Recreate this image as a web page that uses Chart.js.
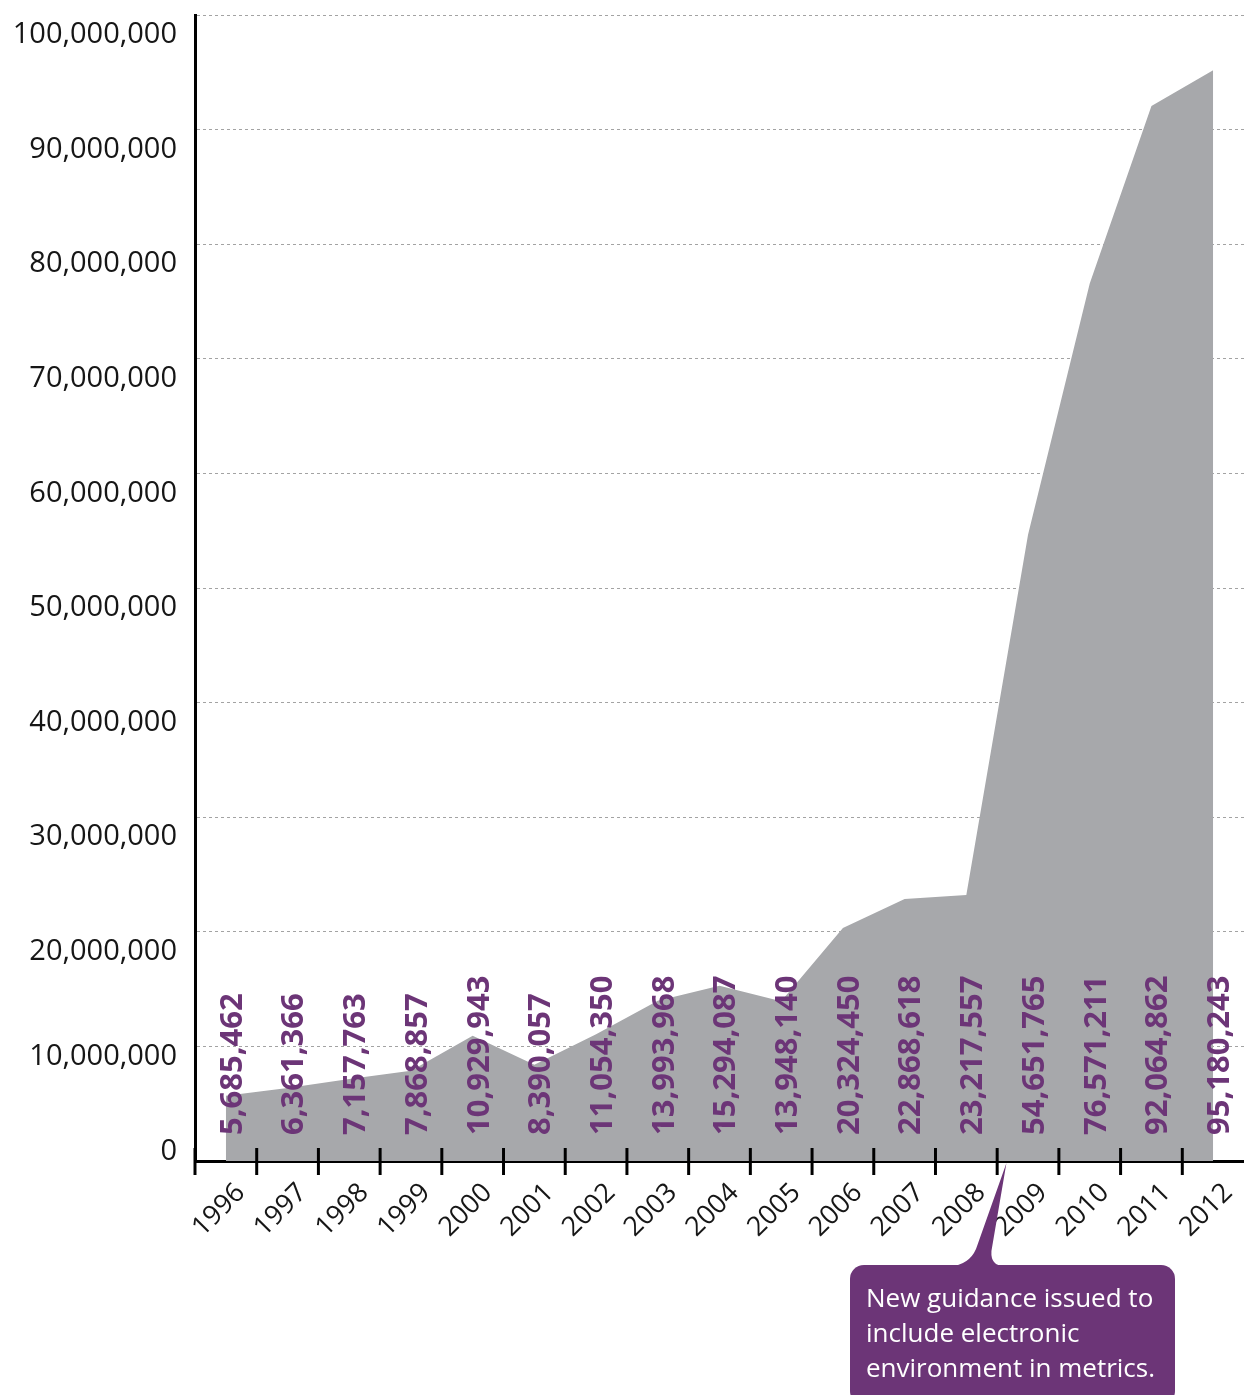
<!DOCTYPE html>
<html>
<head>
<meta charset="utf-8">
<title>Annual totals 1996–2012</title>
<script src="https://cdn.jsdelivr.net/npm/chart.js@4.4.1/dist/chart.umd.min.js"></script>
<style>
  html, body { margin: 0; padding: 0; background: #fff; }
  #wrap { width: 1244px; height: 1395px; position: relative; }
</style>
</head>
<body>
<div id="wrap"><canvas id="chart" width="1244" height="1395"></canvas></div>
<script>
  // yearly totals
  var years = ['1996', '1997', '1998', '1999', '2000', '2001', '2002', '2003', '2004',
               '2005', '2006', '2007', '2008', '2009', '2010', '2011', '2012'];
  var totals = [5685462, 6361366, 7157763, 7868857, 10929943, 8390057, 11054350, 13993968, 15294087,
                13948140, 20324450, 22868618, 23217557, 54651765, 76571211, 92064862, 95180243];
  var yTicks = [0, 10000000, 20000000, 30000000, 40000000, 50000000, 60000000, 70000000, 80000000, 90000000, 100000000];
  var noteLines = ['New guidance issued to', 'include electronic', 'environment in metrics.'];
  var noteAfter = '2008'; // callout points just past this year

  var PURPLE = '#6c3577';
  var GREY = '#a7a8ab';
  var INK = '#161616';
  var FONT = '"Open Sans", "DejaVu Sans", sans-serif';

  function fmt(n) { return Number(n).toLocaleString('en-US'); }

  // no automatic padding around the axes, the frame is fixed
  function noPad(s) {
    s.paddingTop = 0; s.paddingBottom = 0; s.paddingLeft = 0; s.paddingRight = 0;
  }

  // y labels hang below their grid line; the two lowest are pulled up clear of the axis
  function labelDrop(v) {
    if (v === 0) return -9;
    if (v === 10000000) return 10;
    return 20;
  }

  // tick marks that straddle the x axis, one at each category boundary
  var boundaryTicks = {
    id: 'boundaryTicks',
    afterDraw: function (chart) {
      var xs = chart.scales.x, ctx = chart.ctx, base = chart.chartArea.bottom;
      var step = xs.getPixelForValue(1) - xs.getPixelForValue(0);
      ctx.save();
      ctx.strokeStyle = '#000';
      ctx.lineWidth = 3;
      for (var i = 0; i < years.length; i++) {
        var x = xs.getPixelForValue(i) - step / 2;
        ctx.beginPath();
        ctx.moveTo(x, base - 13);
        ctx.lineTo(x, base + 14);
        ctx.stroke();
      }
      ctx.restore();
    }
  };

  // vertical value labels sitting on the base of the area
  var valueLabels = {
    id: 'valueLabels',
    afterDatasetsDraw: function (chart) {
      var meta = chart.getDatasetMeta(0), ctx = chart.ctx, base = chart.chartArea.bottom;
      ctx.save();
      ctx.fillStyle = PURPLE;
      ctx.font = 'bold 31px ' + FONT;
      ctx.textAlign = 'left';
      ctx.textBaseline = 'middle';
      meta.data.forEach(function (pt, i) {
        ctx.save();
        ctx.translate(pt.x + 7, base - 26);
        ctx.rotate(-Math.PI / 2);
        ctx.fillText(fmt(totals[i]), 0, 0);
        ctx.restore();
      });
      ctx.restore();
    }
  };

  // speech-bubble note under the x axis
  var callout = {
    id: 'callout',
    afterDraw: function (chart) {
      var xs = chart.scales.x, ctx = chart.ctx;
      var step = xs.getPixelForValue(1) - xs.getPixelForValue(0);
      var tipX = xs.getPixelForValue(years.indexOf(noteAfter)) + step * 0.65;
      var tipY = chart.chartArea.bottom + 2;
      var bx = 850, by = 1265, bw = 325, bh = 140;
      ctx.save();
      ctx.fillStyle = PURPLE;
      ctx.beginPath();
      ctx.roundRect(bx, by, bw, bh, 14);
      ctx.fill();
      ctx.beginPath();
      ctx.moveTo(tipX - 52, by + 1);
      ctx.quadraticCurveTo(tipX - 34, by - 3, tipX - 29, by - 20);
      ctx.lineTo(tipX, tipY);
      ctx.lineTo(tipX - 15, by - 14);
      ctx.quadraticCurveTo(tipX - 16, by + 1, tipX - 2, by + 1);
      ctx.closePath();
      ctx.fill();
      ctx.fillStyle = '#fff';
      ctx.font = '26px ' + FONT;
      ctx.textAlign = 'left';
      ctx.textBaseline = 'alphabetic';
      noteLines.forEach(function (line, i) {
        ctx.fillText(line, 866, 1307 + i * 35);
      });
      ctx.restore();
    }
  };

  new Chart(document.getElementById('chart'), {
    type: 'line',
    data: {
      labels: years,
      datasets: [{
        data: totals,
        fill: 'origin',
        backgroundColor: GREY,
        borderWidth: 0,
        pointRadius: 0,
        tension: 0
      }]
    },
    options: {
      responsive: false,
      animation: false,
      layout: { autoPadding: false, padding: { top: 15, right: 0, left: 0, bottom: 0 } },
      plugins: { legend: { display: false }, tooltip: { enabled: false } },
      scales: {
        x: {
          type: 'category',
          offset: true,
          grid: { display: false, drawTicks: false },
          border: { display: true, color: '#000', width: 3 },
          ticks: {
            autoSkip: false,
            minRotation: 45,
            maxRotation: 45,
            padding: 16,
            labelOffset: 15,
            color: INK,
            font: { family: FONT, size: 27, weight: '400' }
          },
          afterFit: function (s) { s.height = 1395 - 1161; noPad(s); }
        },
        y: {
          min: 0,
          max: 100000000,
          weight: 1,
          ticks: { display: false, stepSize: 10000000 },
          grid: { color: '#a3a3a3', lineWidth: 1, drawTicks: false },
          border: { display: true, color: '#000', width: 3, dash: [3, 3] },
          afterFit: function (s) { s.width = 0; noPad(s); }
        },
        // label axis over the same range; each tick is moved by its drop in pixels
        yl: {
          position: 'left',
          weight: 2,
          min: 0,
          max: 100000000,
          afterBuildTicks: function (s) {
            var perPx = (s.max - s.min) / (s.bottom - s.top || 1146);
            s.ticks = yTicks.map(function (v) { return { value: v - labelDrop(v) * perPx }; });
          },
          grid: { display: false, drawTicks: false },
          border: { display: false },
          ticks: {
            padding: 18,
            color: INK,
            font: { family: FONT, size: 29, weight: '400' },
            callback: function (v, i) { return fmt(yTicks[i]); }
          },
          afterFit: function (s) { s.width = 195; noPad(s); }
        }
      }
    },
    plugins: [boundaryTicks, valueLabels, callout]
  });
</script>
</body>
</html>
